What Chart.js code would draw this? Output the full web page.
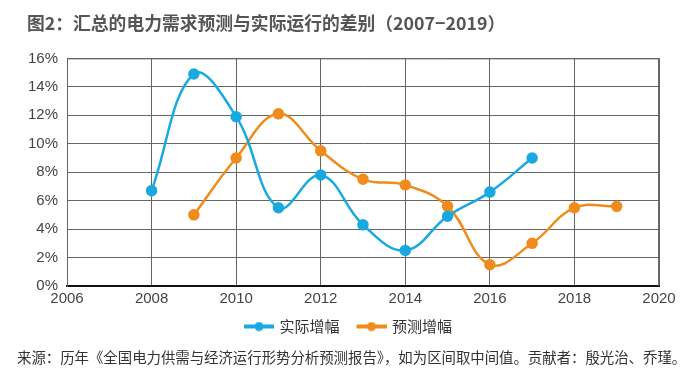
<!DOCTYPE html>
<html>
<head>
<meta charset="utf-8">
<script src="https://cdn.jsdelivr.net/npm/chart.js@4"></script>
<style>
  html, body { margin: 0; padding: 0; background: #fff; }
  #wrap { position: relative; width: 695px; height: 375px; }
  #source {
    position: absolute; left: 17px; top: 347px; white-space: nowrap;
    font-family: 'Noto Sans CJK SC'; font-size: 14.4px; line-height: 20px; color: #333;
  }
</style>
</head>
<body>
<div id="wrap">
  <canvas id="chart" width="695" height="375"></canvas>
  <div id="source"></div>
</div>
<script>
// data
const actualYears = [2008, 2009, 2010, 2011, 2012, 2013, 2014, 2015, 2016, 2017];
const actualGrowth = [6.7, 14.9, 11.9, 5.5, 7.8, 4.3, 2.5, 4.9, 6.6, 9.0];
const forecastYears = [2009, 2010, 2011, 2012, 2013, 2014, 2015, 2016, 2017, 2018, 2019];
const forecastGrowth = [5.0, 9.0, 12.1, 9.5, 7.5, 7.1, 5.6, 1.5, 3.0, 5.5, 5.6];
const seriesNames = ['实际增幅', '预测增幅'];
const seriesColors = ['#19a9e1', '#f08b1d'];
const xTicks = [2006, 2008, 2010, 2012, 2014, 2016, 2018, 2020];
const yTicks = [0, 2, 4, 6, 8, 10, 12, 14, 16];

const titleText = '图2：汇总的电力需求预测与实际运行的差别（2007−2019）';
const sourceText = '来源：历年《全国电力供需与经济运行形势分析预测报告》，如为区间取中间值。贡献者：殷光治、乔瑾。';
document.getElementById('source').textContent = sourceText;

// legend symbol: thick line with a dot, transparent gap on the left
function legendIcon(color) {
    let c = document.createElement('canvas');
    c.width = 42; c.height = 10;
    let g = c.getContext('2d');
    g.strokeStyle = color;
    g.lineWidth = 4;
    g.beginPath(); g.moveTo(12, 5); g.lineTo(42, 5); g.stroke();
    g.fillStyle = color;
    g.beginPath(); g.arc(27, 5, 4.5, 0, Math.PI * 2); g.fill();
    return c;
}
const icons = seriesColors.map(legendIcon);

function toPoints(xs, ys) {
    return xs.map((x, i) => ({x: x, y: ys[i]}));
}

function makeSet(i, xs, ys) {
    return {
        label: seriesNames[i],
        data: toPoints(xs, ys),
        borderColor: seriesColors[i],
        backgroundColor: seriesColors[i],
        borderWidth: 2.5,
        pointRadius: 4.5,
        pointHoverRadius: 4.5,
        tension: 0.4,
        fill: false
    };
}

const ctx = document.getElementById('chart');
const chart = new Chart(ctx, {
    type: 'line',
    data: {
        datasets: [
            makeSet(0, actualYears, actualGrowth),
            makeSet(1, forecastYears, forecastGrowth)
        ]
    },
    options: {
        responsive: false,
        animation: false,
        layout: { padding: { left: 27, right: 36, top: 0, bottom: 31 } },
        scales: {
            x: {
                type: 'linear',
                min: 2006,
                max: 2020,
                afterBuildTicks: axis => { axis.ticks = xTicks.map(v => ({value: v})); },
                ticks: {
                    color: '#444',
                    font: { family: 'Liberation Sans', size: 15 },
                    maxRotation: 0,
                    padding: 4,
                    callback: v => String(v)
                },
                grid: { color: '#666', lineWidth: 1, drawTicks: false },
                border: { color: '#111', width: 2 }
            },
            y: {
                min: 0,
                max: 16,
                afterBuildTicks: axis => { axis.ticks = yTicks.map(v => ({value: v})); },
                afterFit: axis => { axis.width -= 8; },
                ticks: {
                    color: '#444',
                    font: { family: 'Liberation Sans', size: 15 },
                    padding: 9,
                    callback: v => v + '%'
                },
                grid: { color: '#666', lineWidth: 1, drawTicks: false },
                border: { color: '#666', width: 1 }
            }
        },
        plugins: {
            title: {
                display: true,
                text: titleText,
                align: 'start',
                color: '#555',
                font: { family: 'Noto Sans CJK SC', size: 17.8, weight: 'bold' },
                padding: { top: 13, bottom: 24 }
            },
            legend: {
                position: 'bottom',
                labels: {
                    usePointStyle: true,
                    pointStyleWidth: 38,
                    color: '#333',
                    font: { family: 'Noto Sans CJK SC', size: 15 },
                    padding: 7,
                    generateLabels: ch => ch.data.datasets.map((d, i) => ({
                        text: d.label,
                        fontColor: '#333',
                        pointStyle: icons[i],
                        datasetIndex: i,
                        hidden: false,
                        lineWidth: 0,
                        strokeStyle: 'transparent',
                        fillStyle: 'transparent'
                    }))
                }
            },
            tooltip: { enabled: false }
        }
    },
    plugins: [{
        id: 'frame',
        afterDraw(ch) {
            // top and right border of the plot
            let a = ch.chartArea;
            let g = ch.ctx;
            g.save();
            g.strokeStyle = '#666';
            g.lineWidth = 1;
            g.beginPath();
            g.moveTo(a.left, a.top + 0.5);
            g.lineTo(a.right - 0.5, a.top + 0.5);
            g.lineTo(a.right - 0.5, a.bottom);
            g.stroke();
            g.restore();
        }
    }]
});
</script>
</body>
</html>
